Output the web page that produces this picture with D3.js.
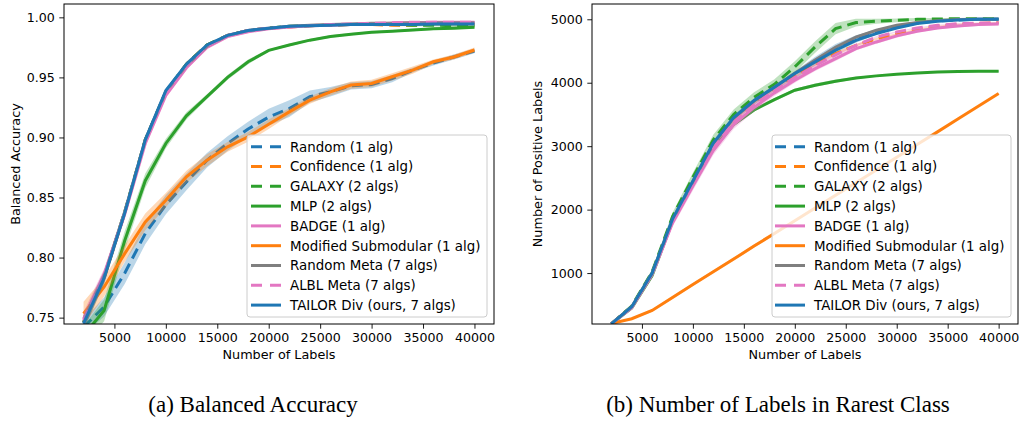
<!DOCTYPE html>
<html><head><meta charset="utf-8">
<script src="https://cdn.jsdelivr.net/npm/d3@7"></script>
<style>
body{margin:0;background:#fff;}
</style></head>
<body><svg id="c" width="1023" height="421"></svg>
<script>
// ---------- DATA ----------
const labelCounts = [2000,4000,6000,8000,10000,12000,14000,16000,18000,20000,22000,24000,26000,28000,30000,32000,34000,36000,38000,40000];
const seriesNames = ["Random (1 alg)","Confidence (1 alg)","GALAXY (2 algs)","MLP (2 algs)","BADGE (1 alg)","Modified Submodular (1 alg)","Random Meta (7 algs)","ALBL Meta (7 algs)","TAILOR Div (ours, 7 algs)"];
const seriesColors = ["#1f77b4","#ff7f0e","#2ca02c","#2ca02c","#e377c2","#ff7f0e","#7f7f7f","#e377c2","#1f77b4"];
const seriesDashed = [true,true,true,false,false,false,false,true,false];

// (a) balanced accuracy
const accRandom     = [0.742,0.759,0.787,0.820,0.844,0.863,0.881,0.895,0.907,0.917,0.924,0.934,0.938,0.943,0.944,0.949,0.956,0.962,0.967,0.972];
const accConfidence = [0.746,0.783,0.837,0.898,0.938,0.961,0.977,0.985,0.989,0.991,0.992,0.993,0.9935,0.994,0.994,0.9935,0.9935,0.994,0.994,0.994];
const accGalaxy     = [0.746,0.784,0.838,0.898,0.938,0.961,0.977,0.985,0.989,0.991,0.9925,0.993,0.9935,0.994,0.994,0.994,0.9935,0.9935,0.993,0.993];
const accMLP        = [0.735,0.756,0.814,0.864,0.895,0.918,0.934,0.950,0.963,0.9725,0.977,0.981,0.984,0.986,0.9875,0.9885,0.9895,0.9905,0.991,0.9917];
const accBadge      = [0.749,0.786,0.836,0.895,0.935,0.958,0.975,0.984,0.988,0.9905,0.992,0.993,0.9935,0.994,0.9945,0.995,0.9955,0.996,0.996,0.996];
const accModSub     = [0.7533,0.7755,0.8033,0.8297,0.8478,0.8672,0.8811,0.8922,0.9005,0.911,0.9213,0.931,0.938,0.9436,0.945,0.9505,0.956,0.963,0.967,0.9728];
const accRandMeta   = [0.746,0.784,0.838,0.898,0.938,0.960,0.976,0.985,0.989,0.991,0.9925,0.9935,0.994,0.9945,0.995,0.995,0.9955,0.9955,0.9955,0.9955];
const accALBL       = [0.748,0.785,0.837,0.897,0.937,0.960,0.976,0.985,0.989,0.991,0.992,0.993,0.994,0.9945,0.995,0.9955,0.996,0.996,0.996,0.996];
const accTailor     = [0.745,0.783,0.837,0.898,0.939,0.961,0.977,0.985,0.989,0.991,0.9925,0.993,0.9935,0.994,0.994,0.994,0.994,0.9945,0.9945,0.9945];
// half-widths of shaded bands
const accRandomErr  = [0.006,0.008,0.009,0.009,0.008,0.007,0.006,0.006,0.006,0.007,0.007,0.005,0.004,0.003,0.003,0.003,0.002,0.002,0.002,0.002];
const accModSubErr  = [0.010,0.008,0.007,0.007,0.006,0.005,0.005,0.004,0.004,0.004,0.003,0.003,0.003,0.003,0.003,0.003,0.003,0.002,0.002,0.002];
const accMLPErr     = [0.008,0.009,0.008,0.006,0.004,0.003,0.002,0.002,0.002,0.001,0.001,0.001,0.001,0.001,0.001,0.001,0.001,0.001,0.001,0.001];
const accTopErr     = [0.006,0.005,0.004,0.003,0.002,0.002,0.001,0.001,0.001,0.001,0.001,0.001,0.001,0.001,0.001,0.001,0.001,0.001,0.001,0.001];

// (b) number of positive labels in rarest class
const cntRandom     = [200,470,1000,1840,2440,3030,3440,3700,3920,4120,4340,4540,4690,4800,4880,4940,4975,4990,5000,5005];
const cntConfidence = [200,468,995,1830,2420,2990,3400,3680,3900,4100,4290,4460,4590,4690,4770,4840,4890,4920,4935,4945];
const cntGalaxy     = [200,480,1020,1890,2510,3100,3500,3770,3975,4250,4564,4853,4948,4969,4984,5000,5005,5010,5010,5010];
const cntMLP        = [200,450,960,1820,2400,2960,3340,3570,3735,3882,3961,4024,4076,4108,4134,4155,4171,4176,4181,4181];
const cntBadge      = [200,455,975,1790,2370,2930,3340,3610,3840,4039,4223,4381,4538,4643,4738,4811,4863,4895,4916,4927];
const cntModSub     = [205,280,410,615,820,1020,1220,1425,1625,1825,2025,2225,2425,2625,2825,3025,3225,3430,3630,3830];
const cntRandMeta   = [200,470,1000,1840,2440,3030,3440,3710,3930,4150,4360,4560,4720,4827,4905,4950,4979,4995,5000,5000];
const cntALBL       = [200,462,985,1810,2400,2970,3380,3650,3880,4080,4270,4440,4590,4720,4800,4863,4905,4930,4940,4945];
const cntTailor     = [200,470,1000,1850,2450,3050,3450,3720,3930,4145,4328,4512,4669,4775,4863,4932,4969,4990,5000,5000];
const cntGalaxyErr  = [20,30,40,60,70,80,80,80,80,90,90,90,60,40,30,20,15,10,10,10];
const cntBadgeErr   = [20,30,40,60,70,70,70,60,50,40,40,40,30,30,30,20,20,20,20,20];
const cntRandomErr  = [20,30,40,50,50,50,50,50,50,60,70,70,60,40,30,20,15,10,10,10];
const cntSmallErr   = [10,15,20,25,25,25,25,25,25,25,25,25,20,15,10,10,10,10,10,10];

const accTicks = [0.75,0.80,0.85,0.90,0.95,1.00];
const cntTicks = [1000,2000,3000,4000,5000];
const labelTicks = [5000,10000,15000,20000,25000,30000,35000,40000];

// ---------- DRAW ----------
const svg = d3.select("#c");
const SANS = "'DejaVu Sans', sans-serif";

function panel(cfg){
  const g = svg.append("g");
  const x = d3.scaleLinear().domain(cfg.xDomain).range([cfg.x0, cfg.x1]);
  const y = d3.scaleLinear().domain(cfg.yDomain).range([cfg.y1, cfg.y0]);
  const clipId = "clip" + cfg.id;
  svg.append("defs").append("clipPath").attr("id", clipId)
    .append("rect").attr("x", cfg.x0).attr("y", cfg.y0).attr("width", cfg.x1-cfg.x0).attr("height", cfg.y1-cfg.y0);
  const plot = g.append("g").attr("clip-path", `url(#${clipId})`);
  const line = d3.line().x((d,i)=>x(labelCounts[i])).y(d=>y(d));
  const area = d3.area().x((d,i)=>x(labelCounts[i])).y0(d=>y(d[0])).y1(d=>y(d[1]));
  cfg.series.forEach((s,k)=>{
    const band = s.map((v,i)=>[v-cfg.errs[k][i], v+cfg.errs[k][i]]);
    plot.append("path").attr("d", area(band)).attr("fill", seriesColors[k]).attr("opacity", 0.3).attr("stroke","none");
    plot.append("path").attr("d", line(s)).attr("fill","none").attr("stroke", seriesColors[k])
      .attr("stroke-width", 3).attr("stroke-dasharray", seriesDashed[k] ? "11,6" : null);
  });
  // axes
  const xa = g.append("g").attr("transform", `translate(0,${cfg.y1})`)
    .call(d3.axisBottom(x).tickValues(labelTicks).tickFormat(d3.format("d")).tickSize(4.7).tickPadding(4));
  const ya = g.append("g").attr("transform", `translate(${cfg.x0},0)`)
    .call(d3.axisLeft(y).tickValues(cfg.yTicks).tickFormat(cfg.yFmt).tickSize(4.7).tickPadding(4.5));
  [xa,ya].forEach(a=>{
    a.select(".domain").remove();
    a.selectAll("text").attr("font-size", 12.6).style("font-family", SANS).attr("fill","#000");
    a.selectAll("line").attr("stroke","#000").attr("stroke-width",0.9);
  });
  g.append("rect").attr("x", cfg.x0).attr("y", cfg.y0).attr("width", cfg.x1-cfg.x0).attr("height", cfg.y1-cfg.y0)
    .attr("fill","none").attr("stroke","#000").attr("stroke-width",1);
  // labels
  g.append("text").attr("x", (cfg.x0+cfg.x1)/2).attr("y", 359).attr("text-anchor","middle")
    .style("font-family", SANS).attr("font-size",12.8).text("Number of Labels");
  g.append("text").attr("transform", `translate(${cfg.ylx},${(cfg.y0+cfg.y1)/2}) rotate(-90)`).attr("text-anchor","middle")
    .attr("dy","0.35em").style("font-family", SANS).attr("font-size",12.8).text(cfg.yLabel);
  // legend
  const lg = g.append("g");
  lg.append("rect").attr("x", cfg.legX).attr("y", 135).attr("width", cfg.legW).attr("height", 182).attr("rx",3)
    .attr("fill","#fff").attr("fill-opacity",0.8).attr("stroke","#cccccc").attr("stroke-width",1);
  seriesNames.forEach((n,k)=>{
    const yy = 146.7 + k*19.8;
    lg.append("line").attr("x1", cfg.legX+cfg.hOff).attr("x2", cfg.legX+cfg.hOff+30).attr("y1", yy).attr("y2", yy)
      .attr("stroke", seriesColors[k]).attr("stroke-width",3).attr("stroke-dasharray", seriesDashed[k] ? "11,8" : null);
    lg.append("text").attr("x", cfg.legX+cfg.tOff).attr("y", yy).attr("dy","0.36em")
      .style("font-family", SANS).attr("font-size",13.4).text(n);
  });
  // caption
  svg.append("text").attr("x", cfg.capX).attr("y", 412).attr("text-anchor","middle")
    .style("font-family","'Liberation Serif', 'Times New Roman', serif").attr("font-size",23).text(cfg.caption);
}

panel({id:"a", x0:64, x1:494, y0:4, y1:324, xDomain:[100,41900], yDomain:[0.7447,1.0111],
  series:[accRandom,accConfidence,accGalaxy,accMLP,accBadge,accModSub,accRandMeta,accALBL,accTailor],
  errs:[accRandomErr,accTopErr,accTopErr,accMLPErr,accTopErr,accModSubErr,accTopErr,accTopErr,accTopErr],
  yTicks:accTicks, yFmt:d3.format(".2f"), yLabel:"Balanced Accuracy", ylx:16,
  legX:247, legW:240, hOff:4, tOff:43, capX:253, caption:"(a) Balanced Accuracy"});

panel({id:"b", x0:592, x1:1018, y0:4, y1:324, xDomain:[100,41900], yDomain:[197,5241],
  series:[cntRandom,cntConfidence,cntGalaxy,cntMLP,cntBadge,cntModSub,cntRandMeta,cntALBL,cntTailor],
  errs:[cntRandomErr,cntSmallErr,cntGalaxyErr,cntSmallErr,cntBadgeErr,cntSmallErr,cntSmallErr,cntSmallErr,cntSmallErr],
  yTicks:cntTicks, yFmt:d3.format("d"), yLabel:"Number of Positive Labels", ylx:538,
  legX:772, legW:239, hOff:3, tOff:42, capX:778, caption:"(b) Number of Labels in Rarest Class"});
</script></body></html>
